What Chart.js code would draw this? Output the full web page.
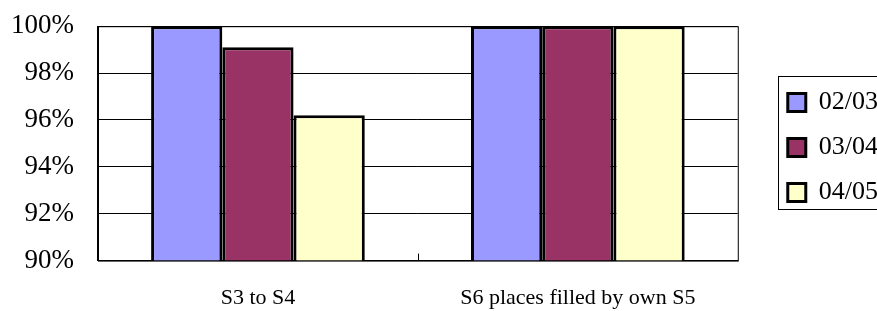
<!DOCTYPE html>
<html>
<head>
<meta charset="utf-8">
<script src="https://cdn.jsdelivr.net/npm/chart.js@4/dist/chart.umd.min.js"></script>
<style>
  html, body { margin: 0; padding: 0; background: #fff; overflow: hidden; }
  #wrap { width: 877px; height: 311px; }
</style>
</head>
<body>
<div id="wrap"><canvas id="rateChart"></canvas></div>
<script>
// data
var categories = ['S3 to S4', 'S6 places filled by own S5'];
var seriesNames = ['02/03', '03/04', '04/05'];
var values0203 = [100, 100];
var values0304 = [99.1, 100];
var values0405 = [96.2, 100];
var yTicks = [90, 92, 94, 96, 98, 100];

var colors = ['#9999ff', '#993366', '#ffffcc'];
var serif = "'Liberation Serif', 'DejaVu Serif', serif";

// legend sits further right than Chart.js would put it, and runs off the edge
var legendExtra = 20;
var legendShift = 31;
var legendLift = 20;

var legendPlugin = {
    id: 'legendNudge',
    beforeLayout: function (chart) {
        var lg = chart.legend;
        if (lg && !lg._wrapped) {
            var fit = lg.fit;
            lg.fit = function () {
                fit.call(this);
                this.width += legendExtra;
            };
            lg._wrapped = true;
        }
    },
    afterLayout: function (chart) {
        var lg = chart.legend;
        if (lg) {
            lg.left += legendShift;
            lg.right += legendShift;
            lg.top -= legendLift;
            lg.bottom -= legendLift;
        }
    }
};

// frame round the plot area, small inner tick between the groups, box round the legend
var framePlugin = {
    id: 'frame',
    afterDraw: function (chart) {
        var ctx = chart.ctx;
        var a = chart.chartArea;
        ctx.save();
        ctx.strokeStyle = '#000';
        ctx.lineWidth = 1;
        ctx.strokeRect(a.left + 0.5, a.top + 0.5, a.right - a.left, a.bottom - a.top);

        var x = Math.round(chart.scales.x.getPixelForValue(0.5)) + 0.5;
        ctx.beginPath();
        ctx.moveTo(x, a.bottom);
        ctx.lineTo(x, a.bottom - 7);
        ctx.stroke();

        var lg = chart.legend;
        if (lg && lg.legendHitBoxes && lg.legendHitBoxes.length) {
            var hb = lg.legendHitBoxes;
            var l = hb[0].left - 10;
            var t = hb[0].top - 14;
            var last = hb[hb.length - 1];
            var b = last.top + 18 + 11;
            ctx.strokeRect(Math.round(l) + 0.5, Math.round(t) + 0.5, 200, Math.round(b - t));
        }
        ctx.restore();
    }
};

document.addEventListener('DOMContentLoaded', function () {
    var ctx = document.getElementById('rateChart').getContext('2d');
    var rateChart = new Chart(ctx, {
        type: 'bar',
        data: {
            labels: categories,
            datasets: [
                { label: seriesNames[0], data: values0203, backgroundColor: colors[0] },
                { label: seriesNames[1], data: values0304, backgroundColor: colors[1] },
                { label: seriesNames[2], data: values0405, backgroundColor: colors[2] }
            ].map(function (ds) {
                ds.borderColor = '#000';
                ds.borderWidth = 3;
                ds.borderSkipped = false;
                ds.categoryPercentage = 0.668;
                ds.barPercentage = 1;
                return ds;
            })
        },
        options: {
            responsive: true,
            maintainAspectRatio: false,
            animation: false,
            layout: { padding: { top: 0, left: 1, right: 0, bottom: -24 } },
            scales: {
                x: {
                    grid: { display: false, drawTicks: false },
                    border: { color: '#000', width: 1 },
                    ticks: {
                        color: '#000',
                        padding: 24,
                        font: { family: serif, size: 22 }
                    }
                },
                y: {
                    min: 90,
                    max: 100,
                    afterBuildTicks: function (scale) {
                        scale.ticks = yTicks.map(function (v) { return { value: v }; });
                    },
                    grid: { color: '#000', lineWidth: 1, drawTicks: true, tickLength: 14, tickColor: 'rgba(0,0,0,0)' },
                    border: { color: '#000', width: 1 },
                    ticks: {
                        color: '#000',
                        padding: 10,
                        font: { family: serif, size: 27 },
                        callback: function (v) { return v + '%'; }
                    }
                }
            },
            plugins: {
                tooltip: { enabled: false },
                legend: {
                    position: 'right',
                    labels: {
                        color: '#000',
                        boxWidth: 18,
                        boxHeight: 18,
                        padding: 19,
                        font: { family: serif, size: 26 }
                    }
                }
            }
        },
        plugins: [legendPlugin, framePlugin]
    });
});
</script>
</body>
</html>
